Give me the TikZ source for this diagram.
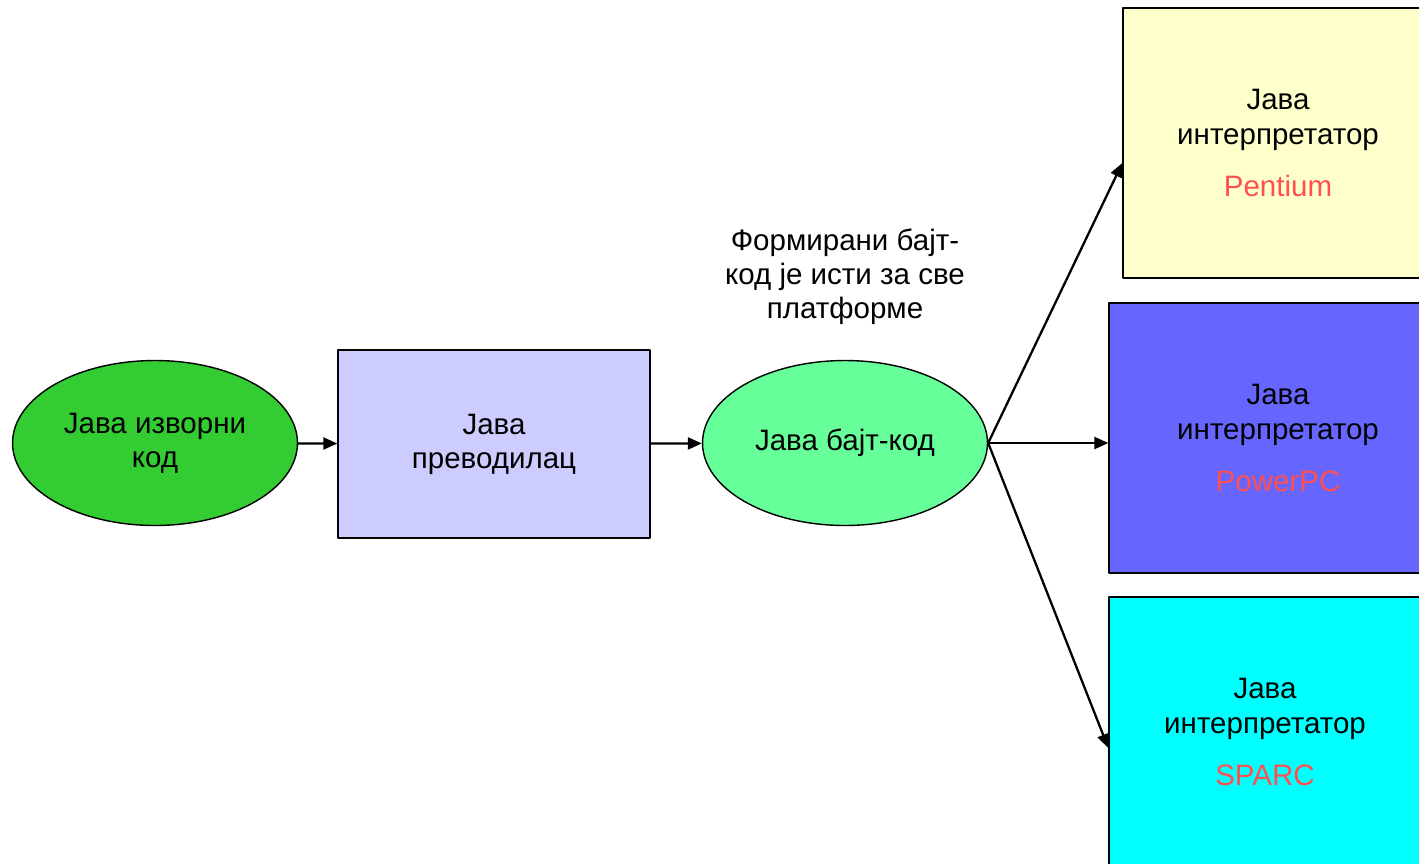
\documentclass[tikz,border=0pt]{standalone}
\usepackage{fontspec}
\setmainfont{Liberation Sans}
\usetikzlibrary{shapes.geometric,arrows.meta}
\definecolor{srcgreen}{HTML}{33CC33}
\definecolor{compviolet}{HTML}{CCCCFF}
\definecolor{bytegreen}{HTML}{66FF99}
\definecolor{pentyellow}{HTML}{FFFFCC}
\definecolor{ppcblue}{HTML}{6666FF}
\definecolor{sparccyan}{HTML}{00FFFF}
\definecolor{cpured}{HTML}{FF5050}
\tikzset{
  blob/.style={ellipse, draw, line width=0.8pt, minimum width=5.7cm, minimum height=3.3cm, inner sep=0pt, align=center},
  interp/.style={rectangle, draw, line width=0.8pt, minimum height=5.4cm, inner sep=0pt, align=center},
  flow/.style={->, line width=1.3pt}
}
\begin{document}
\begin{tikzpicture}[x=0.02cm, y=-0.02cm, font=\fontsize{16.8}{19.4}\selectfont, line join=round, >={Triangle[length=0.28cm,width=0.24cm]}]
\useasboundingbox (0,0) rectangle (1419,863);
\clip (0,0) rectangle (1419,863);
% source, compiler, bytecode
\node[blob, fill=srcgreen] (src) at (155,443) {Јава изворни\\код};
\node[rectangle, draw, line width=0.8pt, fill=compviolet, minimum width=6.24cm, minimum height=3.76cm, align=center] (comp) at (494,444) {Јава\\преводилац};
\node[blob, fill=bytegreen] (byte) at (845,443) {Јава бајт-код};
\node[align=center] (note) at (845,277) {Формирани бајт-\\код је исти за све\\платформе};
% interpreters
\node[interp, fill=pentyellow, minimum width=6.2cm] (pent) at (1278,143) {Јава\\интерпретатор\\[0.36cm]\textcolor{cpured}{Pentium}};
\node[interp, fill=ppcblue, minimum width=6.76cm] (ppc) at (1278,438) {Јава\\интерпретатор\\[0.36cm]\textcolor{cpured}{PowerPC}};
\node[interp, fill=sparccyan, minimum width=6.24cm] (sparc) at (1265,732) {Јава\\интерпретатор\\[0.36cm]\textcolor{cpured}{SPARC}};
% arrows
\draw[flow] (src) -- (comp);
\draw[flow] (comp) -- (byte);
\draw[flow] (byte.east) -- ([yshift=-0.4cm]pent.west);
\draw[flow] (byte.east) -- (ppc.west |- byte.east);
\draw[flow] (byte.east) -- ([yshift=-0.32cm]sparc.west);
\end{tikzpicture}
\end{document}
